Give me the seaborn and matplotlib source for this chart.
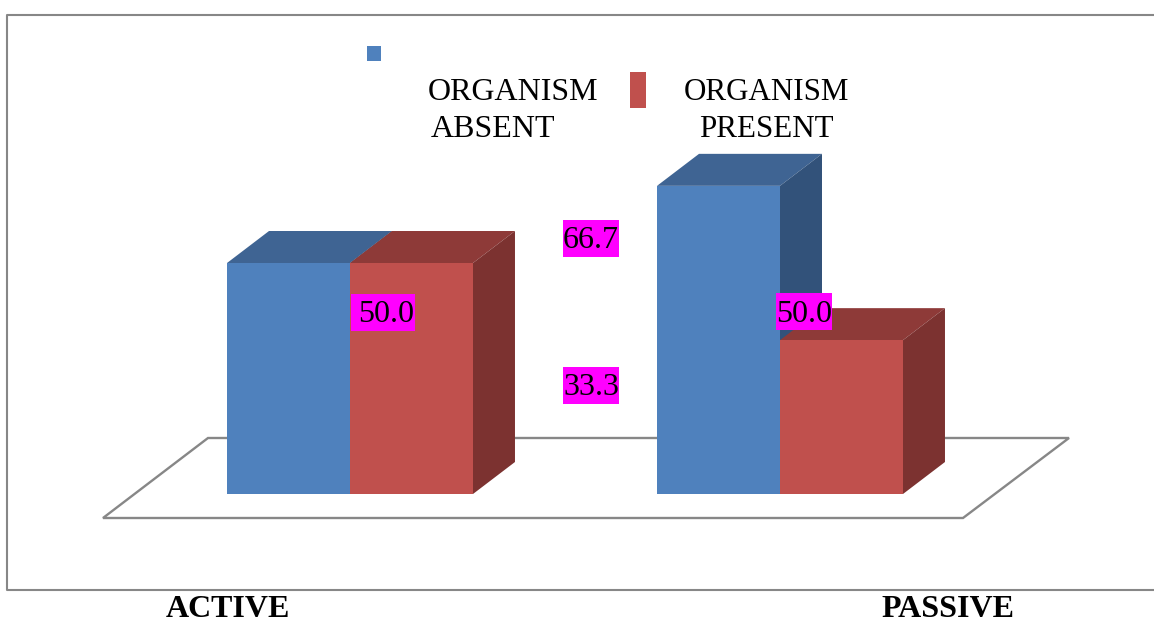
import matplotlib
matplotlib.use("Agg")
import matplotlib.pyplot as plt
from matplotlib.patches import Polygon, Rectangle
from matplotlib.transforms import Affine2D
import pandas as pd
import seaborn as sns

# data
groups = ["ACTIVE", "PASSIVE"]
series = ["ORGANISM ABSENT", "ORGANISM PRESENT"]
absent = [50.0, 66.7]
present = [50.0, 33.3]
shown_labels = ["50.0", "66.7", "33.3", "50.0"]

BLUE, RED = "#4F81BD", "#C0504D"
GREY = "#878787"
W, H = 1154, 620

sns.set_style("white")
plt.rcParams["font.family"] = ["Liberation Serif", "DejaVu Serif"]

df = pd.DataFrame({
    "group": groups * 2,
    "series": [series[0]] * 2 + [series[1]] * 2,
    "value": absent + present,
})

fig = plt.figure(figsize=(W / 100, H / 100), dpi=100)
ax = fig.add_axes([0, 0, 1, 1])
sns.barplot(data=df, x="group", y="value", hue="series", hue_order=series,
            palette=[BLUE, RED], saturation=1, width=0.572, legend=False, ax=ax)
bars = list(ax.patches)

# scale: 430 px between groups, 4.62 px per percent, baseline at y=494
x_px, y_px = 430, 4.62
ax.set_xlim(-350 / x_px, (W - 350) / x_px)
ax.set_ylim(-(H - 494) / y_px, 494 / y_px)
ax.axis("off")

# helper for things placed in image pixels
px = Affine2D().scale(1 / W, -1 / H).translate(0, 1) + fig.transFigure

# outer frame runs off the right side
ax.plot([W, 7, 7, W], [14.5, 14.5, 590, 590], color=GREY, lw=1.5, transform=px, zorder=1)

# floor
ax.add_patch(Polygon([(103, 518), (963, 518), (1069, 438), (208, 438)], closed=True,
                     facecolor="white", edgecolor=GREY, lw=1.7, transform=px, zorder=1))

# 3d faces built from the bars themselves
dx, dy = 42 / x_px, 32 / y_px
shades = {BLUE: ("#3F6493", "#32527A"), RED: ("#8E3A38", "#7C3230")}
for i, bar in enumerate(bars):
    col = BLUE if i < 2 else RED
    top, side = shades[col]
    x0, x1 = bar.get_x(), bar.get_x() + bar.get_width()
    h = bar.get_height()
    z = 2 if col == BLUE else 3
    ax.add_patch(Polygon([(x0, h), (x1, h), (x1 + dx, h + dy), (x0 + dx, h + dy)],
                         facecolor=top, edgecolor="none", zorder=z))
    ax.add_patch(Polygon([(x1, 0), (x1 + dx, dy), (x1 + dx, h + dy), (x1, h)],
                         facecolor=side, edgecolor="none", zorder=z))
    bar.set_zorder(4 if col == RED else 5)
    bar.set_edgecolor("none")

# magenta data labels
label_boxes = [(351, 294, 64, 37), (563, 220, 56, 37), (563, 367, 56, 37), (776, 293, 56, 37)]
label_x = [414, 619, 619, 832]
label_y = [322, 248, 395, 322]
for txt, box, lx, ly in zip(shown_labels, label_boxes, label_x, label_y):
    ax.add_patch(Rectangle(box[:2], box[2], box[3], facecolor="#FF00FF", edgecolor="none",
                           transform=px, zorder=6))
    ax.text(lx, ly, txt, transform=px, ha="right", va="baseline", fontsize=23,
            color="black", zorder=7)

# legend
ax.add_patch(Rectangle((367, 46), 14, 15, facecolor=BLUE, edgecolor="none", transform=px, zorder=6))
ax.add_patch(Rectangle((630, 72), 16, 36, facecolor=RED, edgecolor="none", transform=px, zorder=6))
first, second = [s.split() for s in series]
ax.text(428, 100, first[0], transform=px, va="baseline", fontsize=23, color="black")
ax.text(431, 137, first[1], transform=px, va="baseline", fontsize=23, color="black")
ax.text(684, 100, second[0], transform=px, va="baseline", fontsize=22.3, color="black")
ax.text(699, 137, second[1], transform=px, va="baseline", fontsize=22.3, color="black")

# group names under the frame
for name, cx in zip(groups, [228, 948]):
    ax.text(cx, 617, name, transform=px, ha="center", va="baseline", fontsize=23,
            fontweight="bold", color="black")

fig.savefig("out.png", dpi=100, facecolor="white")
